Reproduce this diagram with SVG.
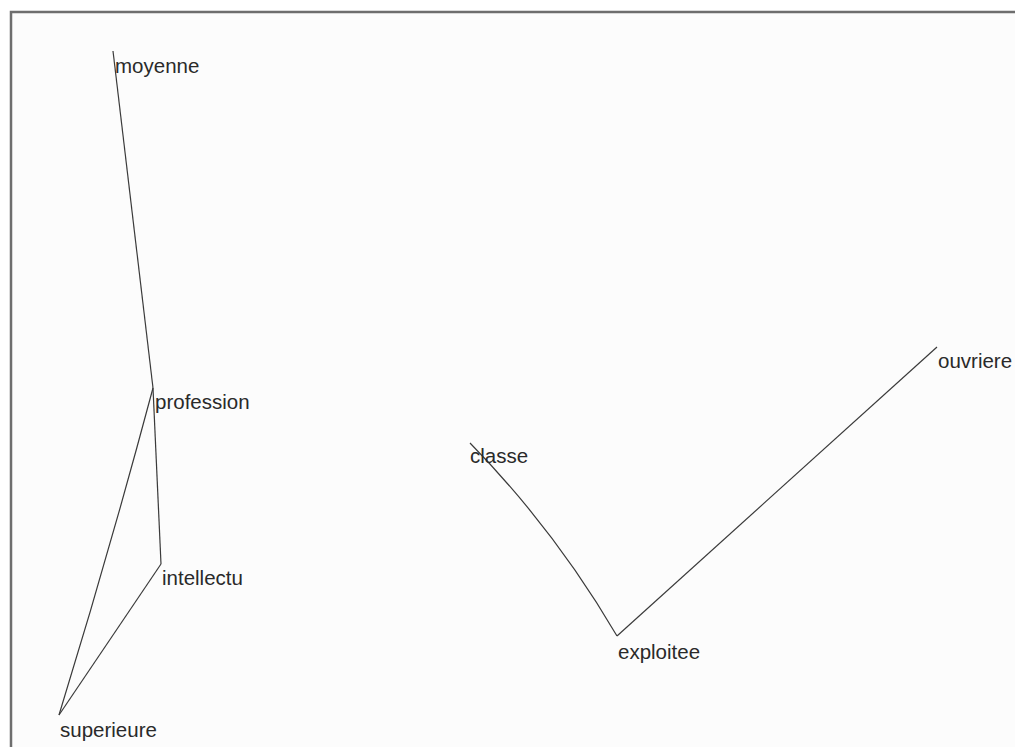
<svg xmlns="http://www.w3.org/2000/svg" width="1015" height="747" viewBox="0 0 1015 747">
<style>
.lbl{font-family:"Liberation Sans",Arial,sans-serif;font-size:20.5px;fill:#2a2a2a}
.edge{stroke:#3a3a3a;stroke-width:1.2;fill:none}
</style>
<rect x="0" y="0" width="1015" height="747" fill="#ffffff"/>
<rect x="11" y="12" width="1010" height="740" fill="#fcfcfc" stroke="#6e6e6e" stroke-width="2.5"/>
<g id="connectors">
<line class="edge" x1="113" y1="51" x2="153" y2="388" stroke-width="1.5"/>
<line class="edge" x1="153" y1="388" x2="161" y2="564" stroke-width="1.5"/>
<path class="edge" d="M153 388 Q109 553 59 715"/>
<line class="edge" x1="161" y1="564" x2="59" y2="715"/>
<path class="edge" d="M470 443 Q555 530 617 636"/>
<line class="edge" x1="617" y1="636" x2="937" y2="347"/>
</g>
<g id="moyenne"><text class="lbl" x="115" y="73">moyenne</text></g>
<g id="profession"><text class="lbl" x="155" y="409">profession</text></g>
<g id="intellectu"><text class="lbl" x="162" y="585">intellectu</text></g>
<g id="superieure"><text class="lbl" x="60" y="737">superieure</text></g>
<g id="classe"><text class="lbl" x="470" y="463">classe</text></g>
<g id="exploitee"><text class="lbl" x="618" y="659">exploitee</text></g>
<g id="ouvriere"><text class="lbl" x="938" y="368">ouvriere</text></g>
</svg>
